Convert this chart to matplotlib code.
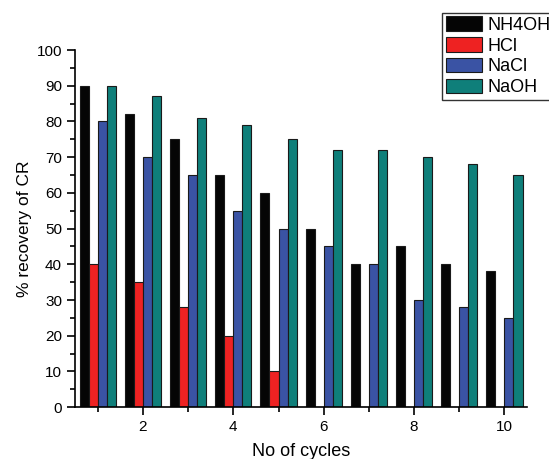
import numpy as np
import matplotlib
matplotlib.use('Agg')
import matplotlib.pyplot as plt
from matplotlib.ticker import MultipleLocator

plt.rcParams['font.family'] = ['Liberation Sans', 'DejaVu Sans']

cycles = np.arange(1, 11)
nh4oh = [90, 82, 75, 65, 60, 50, 40, 45, 40, 38]
hcl = [40, 35, 28, 20, 10, 0, 0, 0, 0, 0]
nacl = [80, 70, 65, 55, 50, 45, 40, 30, 28, 25]
naoh = [90, 87, 81, 79, 75, 72, 72, 70, 68, 65]

names = ['NH4OH', 'HCl', 'NaCl', 'NaOH']
colors = ['#050505', '#ee2222', '#3a53a4', '#0f7f7a']
series = [nh4oh, hcl, nacl, naoh]

fig = plt.figure(figsize=(5.49, 4.59), dpi=100)
ax = fig.add_axes([0.137, 0.113, 0.823, 0.778])

w = 0.2
offsets = [-0.3, -0.1, 0.1, 0.3]
for vals, c, n, off in zip(series, colors, names, offsets):
    ax.bar(cycles + off, vals, width=w, color=c, edgecolor='#1a1a1a',
           linewidth=0.8, label=n)

ax.set_xlim(0.5, 10.5)
ax.set_ylim(0, 100)
ax.xaxis.set_major_locator(MultipleLocator(2))
ax.xaxis.set_minor_locator(MultipleLocator(1))
ax.yaxis.set_major_locator(MultipleLocator(10))
ax.yaxis.set_minor_locator(MultipleLocator(5))
ax.tick_params(which='major', direction='out', length=6, width=1.2, labelsize=11)
ax.tick_params(which='minor', direction='out', length=3.5, width=1.2)
for s in ['top', 'right']:
    ax.spines[s].set_visible(False)
for s in ['left', 'bottom']:
    ax.spines[s].set_linewidth(1.2)

ax.set_xlabel('No of cycles', fontsize=13, labelpad=6)
ax.set_ylabel('% recovery of CR', fontsize=12.5, labelpad=3)

leg = fig.legend(loc='upper left', bbox_to_anchor=(0.806, 0.972), fontsize=13,
                 handlelength=2.0, handleheight=0.85, handletextpad=0.3,
                 labelspacing=0.18, borderpad=0.2, frameon=True, fancybox=False,
                 edgecolor='black', borderaxespad=0)
leg.get_frame().set_linewidth(1.0)

fig.savefig('out.png', dpi=100)
